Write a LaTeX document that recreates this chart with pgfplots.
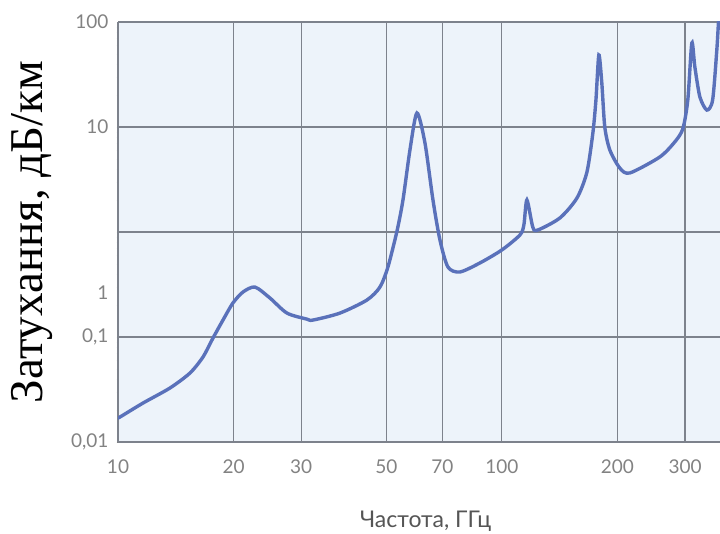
\documentclass[border=0pt]{standalone}
\usepackage{fontspec}
\setmainfont{Lato}
\newfontfamily\timesfont{Liberation Serif}
\usepackage{pgfplots}
\pgfplotsset{compat=1.18}
\usetikzlibrary{calc}

\definecolor{curve}{RGB}{90,113,186}
\definecolor{plotbg}{RGB}{237,243,250}
\definecolor{gridc}{RGB}{125,130,140}
\definecolor{ticktext}{RGB}{130,130,130}
\definecolor{labtext}{RGB}{85,85,85}

\begin{document}
\begin{tikzpicture}
\begin{axis}[
  xmode=log, ymode=log,
  width=602pt, height=420pt, scale only axis,
  xmin=10, xmax=370, ymin=0.01, ymax=100,
  axis background/.style={fill=plotbg},
  axis x line=box, axis y line=left,
  axis line style={-, draw=gridc, line width=1.4pt},
  grid=major, major grid style={draw=gridc, line width=1.2pt},
  minor tick num=0, major tick length=0pt,
  xtick={10,20,30,50,70,100,200,300},
  xticklabels={10,20,30,50,70,100,200,300},
  ytick={0.01,0.1,1,10,100},
  yticklabels={{0,01},{0,1},{},{10},{100}},
  extra y ticks={0.262},
  extra y tick labels={1},
  extra y tick style={grid=none},
  /pgf/number format/assume math mode=true,
  tick label style={font=\fontsize{19}{19}\selectfont, text=ticktext},
  xticklabel style={yshift=-14pt},
  yticklabel style={xshift=-6pt},
  xlabel={Частота, ГГц},
  xlabel style={at={(axis description cs:0.511,0)}, anchor=north, yshift=-65pt,
    font=\fontsize{23}{23}\selectfont, text=labtext},
  ylabel={Затухання, дБ/км},
  ylabel style={at={(axis description cs:0,0.5)}, anchor=center, yshift=86pt,
    font=\timesfont\fontsize{47}{47}\selectfont, text=black},
]
\addplot[curve, line width=3.4pt, smooth, tension=0.45] coordinates {
  (10.0,0.0170) (10.12,0.0173) (11.62,0.0235) (13.66,0.0327) (15.40,0.0454)
  (16.65,0.0645) (17.68,0.0977) (18.77,0.145) (19.93,0.211) (21.16,0.268)
  (22.74,0.299) (24.88,0.235) (27.55,0.169) (31.06,0.148) (32.2,0.145)
  (37.86,0.169) (44.51,0.225) (48.12,0.299) (50.48,0.464) (53.30,1.02)
  (55.25,2.02) (57.61,6.04) (60.08,13.6) (63.04,7.05) (66.14,2.02)
  (68.97,0.84) (72.36,0.464) (77.71,0.416) (87.63,0.507) (100,0.675)
  (111.4,0.936) (114.1,1.17) (116.2,2.02) (120.4,1.11) (124.1,1.045)
  (141.6,1.36) (156.8,2.1) (166.5,3.7) (172.6,8.77)
  (175.8,18.1) (178.9,48.5) (182.1,26.3) (185.4,10.0) (191.1,6.04)
  (202.8,4.07) (215.4,3.65) (257.8,5.18) (282,7.2) (296,9.6)
  (305,18.1) (312.5,63.1) (318.2,37.3) (328,19.3) (342,14.5)
  (354,18.1) (363,54) (367,105) (372,200)
};
\end{axis}
\pgfresetboundingbox
\path ($(current axis.south west)+(-118pt,-91pt)$) rectangle ($(current axis.north east)+(0pt,22pt)$);
\end{tikzpicture}
\end{document}
